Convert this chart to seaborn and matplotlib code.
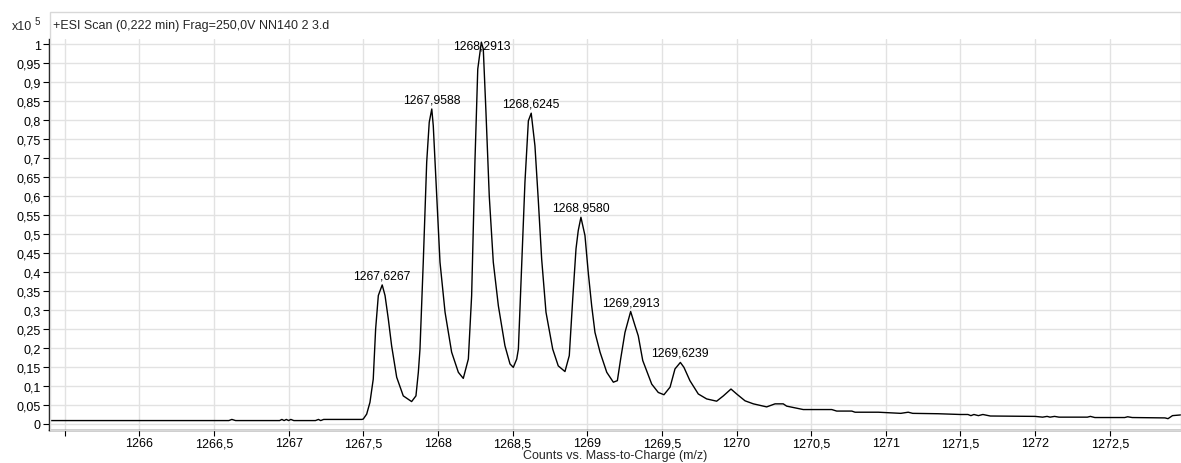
import pandas as pd
import matplotlib.pyplot as plt
import seaborn as sns
from matplotlib.patches import Rectangle

# ---- data (intensity in units of 10^5 counts) ----
mz = [1265.40, 1266.60, 1266.62, 1266.645, 1266.94, 1266.955, 1266.97, 1266.985,
      1267.00, 1267.015, 1267.035, 1267.18, 1267.20, 1267.215, 1267.235, 1267.49,
      1267.500, 1267.523, 1267.545, 1267.567, 1267.583, 1267.601, 1267.627, 1267.646,
      1267.668, 1267.690, 1267.724, 1267.768, 1267.824, 1267.853, 1267.869, 1267.880,
      1267.902, 1267.925, 1267.942, 1267.959, 1267.969, 1267.992, 1268.014, 1268.048,
      1268.092, 1268.137, 1268.170, 1268.204, 1268.226, 1268.248, 1268.267, 1268.291,
      1268.304, 1268.322, 1268.344, 1268.371, 1268.405, 1268.449, 1268.483, 1268.505,
      1268.528, 1268.539, 1268.561, 1268.583, 1268.606, 1268.625, 1268.650, 1268.672,
      1268.695, 1268.724, 1268.769, 1268.806, 1268.851, 1268.880, 1268.903, 1268.925,
      1268.940, 1268.958, 1268.985, 1269.007, 1269.030, 1269.052, 1269.086, 1269.131,
      1269.175, 1269.202, 1269.224, 1269.253, 1269.291, 1269.320, 1269.342, 1269.372,
      1269.432, 1269.476, 1269.514, 1269.555, 1269.588, 1269.624, 1269.648, 1269.688,
      1269.744, 1269.800, 1269.867, 1269.912, 1269.963, 1270.001, 1270.057, 1270.113,
      1270.202, 1270.258, 1270.313, 1270.336, 1270.447, 1270.638, 1270.671, 1270.772,
      1270.794, 1270.950, 1271.000, 1271.100, 1271.150, 1271.180, 1271.350, 1271.500,
      1271.550, 1271.570, 1271.590, 1271.620, 1271.650, 1271.700, 1272.000, 1272.050,
      1272.080, 1272.100, 1272.130, 1272.160, 1272.350, 1272.370, 1272.400, 1272.600,
      1272.620, 1272.650, 1272.870, 1272.890, 1272.920, 1272.980]
intensity = [0.009, 0.009, 0.012, 0.009, 0.009, 0.012, 0.009, 0.012,
             0.009, 0.012, 0.009, 0.009, 0.012, 0.009, 0.012, 0.012,
             0.013, 0.026, 0.057, 0.118, 0.250, 0.338, 0.366, 0.338,
             0.276, 0.206, 0.123, 0.074, 0.059, 0.074, 0.136, 0.197,
             0.426, 0.689, 0.794, 0.829, 0.785, 0.601, 0.426, 0.294,
             0.189, 0.136, 0.120, 0.171, 0.338, 0.689, 0.934, 1.005,
             0.987, 0.820, 0.600, 0.426, 0.311, 0.206, 0.158, 0.149,
             0.171, 0.197, 0.417, 0.636, 0.798, 0.818, 0.732, 0.592,
             0.434, 0.294, 0.197, 0.153, 0.138, 0.180, 0.329, 0.461,
             0.509, 0.544, 0.496, 0.399, 0.311, 0.241, 0.189, 0.136,
             0.110, 0.114, 0.171, 0.241, 0.296, 0.259, 0.232, 0.167,
             0.105, 0.083, 0.077, 0.097, 0.145, 0.162, 0.149, 0.114,
             0.079, 0.066, 0.060, 0.074, 0.092, 0.079, 0.061, 0.053,
             0.045, 0.053, 0.053, 0.047, 0.038, 0.038, 0.034, 0.034,
             0.031, 0.031, 0.030, 0.028, 0.031, 0.028, 0.027, 0.025,
             0.025, 0.022, 0.025, 0.022, 0.025, 0.021, 0.020, 0.018,
             0.020, 0.018, 0.020, 0.018, 0.018, 0.020, 0.017, 0.017,
             0.019, 0.017, 0.016, 0.014, 0.022, 0.024]

peak_mz = [1267.6267, 1267.9588, 1268.2913, 1268.6245, 1268.9580, 1269.2913, 1269.6239]
peak_int = [0.366, 0.829, 1.005, 0.818, 0.544, 0.296, 0.162]
peak_labels = ["1267,6267", "1267,9588", "1268,2913", "1268,6245",
               "1268,9580", "1269,2913", "1269,6239"]

x_ticks = [1265.5, 1266, 1266.5, 1267, 1267.5, 1268, 1268.5, 1269, 1269.5,
           1270, 1270.5, 1271, 1271.5, 1272, 1272.5]
y_ticks = [i * 0.05 for i in range(21)]

df = pd.DataFrame({"mz": mz, "intensity": intensity})

# ---- style ----
sns.set_theme(style="whitegrid")
plt.rcParams['font.family'] = ['Liberation Sans', 'DejaVu Sans']
plt.rcParams['font.size'] = 9

fig = plt.figure(figsize=(11.81, 4.64), dpi=100)
W, H = 1181, 464
ax = fig.add_axes([48.5 / W, 1 - 430.5 / H, 1 - 48.5 / W, (430.5 - 40) / H])

sns.lineplot(data=df, x="mz", y="intensity", ax=ax, color="black",
             linewidth=1.0, estimator=None)

ax.set_xlim(1265.392, 1272.977)
ax.set_ylim(-0.0145, 1.0132)

ax.set_xticks(x_ticks)
ax.set_xticklabels(["" if t == 1265.5 else f"{t:g}".replace(".", ",") for t in x_ticks])
ax.set_yticks(y_ticks)
ax.set_yticklabels([f"{round(t, 2):g}".replace(".", ",") for t in y_ticks])

ax.grid(True, color="#e2e2e2", linewidth=1.0)
ax.tick_params(axis="both", which="major", labelsize=9, colors="black",
               length=4, width=0.8, direction="out", pad=1.5)
ax.tick_params(axis="x", bottom=True)
ax.tick_params(axis="y", left=True)

for side in ["top", "right"]:
    ax.spines[side].set_visible(False)
for side in ["left", "bottom"]:
    ax.spines[side].set_color("black")
    ax.spines[side].set_linewidth(1.0)

ax.set_xlabel("")
ax.set_ylabel("")
fig.text(615 / W, 1 - 456 / H, "Counts vs. Mass-to-Charge (m/z)",
         ha="center", va="center", fontsize=9)

# peak labels
for xm, yv, lab in zip(peak_mz, peak_int, peak_labels):
    ax.text(xm, min(yv + 0.025, 0.996), lab, ha="center", va="center",
            fontsize=8.8, color="black")

# header frame and text
fig.patches.append(Rectangle((50 / W, 1 - 431 / H), (W - 50.5) / W, (431 - 13) / H,
                             transform=fig.transFigure, fill=False,
                             edgecolor="#d8d8d8", linewidth=1.0, zorder=0))
fig.text(53 / W, 1 - 26 / H, "+ESI Scan (0,222 min) Frag=250,0V NN140 2 3.d",
         ha="left", va="center", fontsize=9)
fig.text(12 / W, 1 - 27 / H, "x10", ha="left", va="center", fontsize=9)
fig.text(35 / W, 1 - 22 / H, "5", ha="left", va="center", fontsize=7)

fig.savefig("out.png", dpi=100)
